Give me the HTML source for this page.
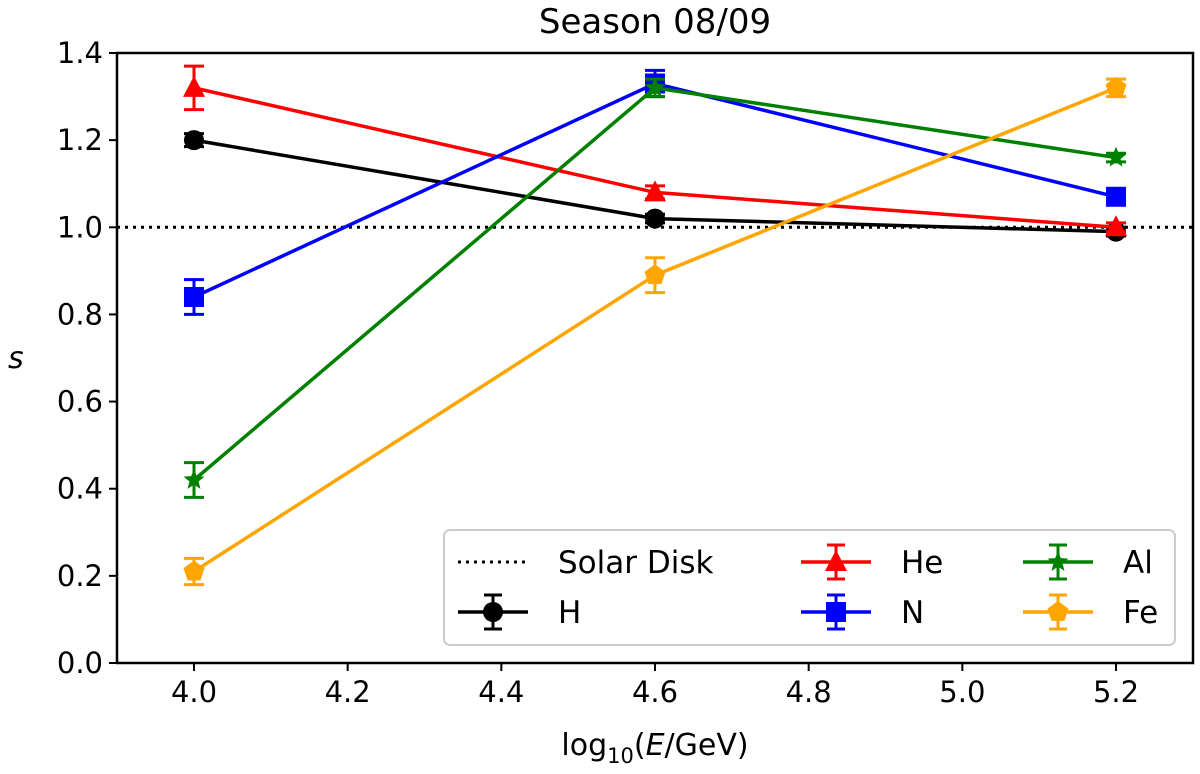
<!DOCTYPE html>
<html><head><meta charset="utf-8"><style>
body{margin:0;background:#fff;}
svg text{font-family:"DejaVu Sans","Liberation Sans",sans-serif;}
</style></head><body>
<svg id="chart" width="1200" height="769" viewBox="0 0 1200 769" xmlns="http://www.w3.org/2000/svg">
<text x="655" y="33" font-size="34" text-anchor="middle">Season 08/09</text>
<g id="plot"></g>
<text x="655" y="755" font-size="30" text-anchor="middle">log<tspan font-size="21" dy="8">10</tspan><tspan dy="-8">(</tspan><tspan font-style="italic">E</tspan>/GeV)</text>
<text x="8" y="368" font-size="30" font-style="italic">s</text>
</svg>
<script>
const energies=[4.0,4.6,5.2];
const seriesNames=["H","He","N","Al","Fe"];
const hVals=[1.20,1.02,0.99];
const heVals=[1.32,1.08,1.00];
const nVals=[0.84,1.33,1.07];
const alVals=[0.42,1.32,1.16];
const feVals=[0.21,0.89,1.32];
const hErr=[0.015,0.01,0.01];
const heErr=[0.05,0.015,0.01];
const nErr=[0.04,0.03,0.01];
const alErr=[0.04,0.02,0.01];
const feErr=[0.03,0.04,0.02];
const xTicks=[4.0,4.2,4.4,4.6,4.8,5.0,5.2];
const yTicks=[0.0,0.2,0.4,0.6,0.8,1.0,1.2,1.4];
const solarLevel=1.0;

const L=117,R=1193,T=53,B=663;
const X=v=>194+(v-4.0)/0.2*153.67;
const Y=v=>B-(v-0)/1.4*(B-T);
const NS="http://www.w3.org/2000/svg";
const g=document.getElementById('plot');
function el(t,a,p){const e=document.createElementNS(NS,t);for(const k in a)e.setAttribute(k,a[k]);(p||g).appendChild(e);return e;}

xTicks.forEach(v=>{
  const t=el('line',{x1:X(v),x2:X(v),y1:B,y2:B+8,stroke:'#000','stroke-width':2});
  
  
  const s=el('text',{x:X(v),y:B+39,'font-size':29,'text-anchor':'middle'});
  s.textContent=v.toFixed(1);
  
  
});
yTicks.forEach(v=>{
  const t=el('line',{x1:L-8,x2:L,y1:Y(v),y2:Y(v),stroke:'#000','stroke-width':2});
  
  
  const s=el('text',{x:L-14,y:Y(v)+10,'font-size':29,'text-anchor':'end'});
  s.textContent=v.toFixed(1);
  
  
});
const sl=el('line',{x1:L,x2:R,y1:Y(solarLevel),y2:Y(solarLevel),stroke:'#000','stroke-width':3,'stroke-dasharray':'3,5'});



function marker(type,x,y,c,parent){
  let m;
  if(type==='circle')m=el('circle',{cx:x,cy:y,r:10,fill:c},parent);
  else if(type==='tri')m=el('polygon',{points:`${x},${y-12} ${x+11},${y+9} ${x-11},${y+9}`,fill:c},parent);
  else if(type==='sq')m=el('rect',{x:x-10,y:y-10,width:20,height:20,fill:c},parent);
  else if(type==='star'){let p=[];for(let i=0;i<10;i++){const r=i%2?4.8:11,a=-Math.PI/2+i*Math.PI/5;p.push((x+r*Math.cos(a))+','+(y+r*Math.sin(a)));}m=el('polygon',{points:p.join(' '),fill:c},parent);}
  else {let p=[];for(let i=0;i<5;i++){const a=-Math.PI/2+i*2*Math.PI/5;p.push((x+11*Math.cos(a))+','+(y+11*Math.sin(a)));}m=el('polygon',{points:p.join(' '),fill:c},parent);}
  return m;
}
const series=[[hVals,hErr,'#000','circle'],[heVals,heErr,'#ff0000','tri'],[nVals,nErr,'#0000ff','sq'],[alVals,alErr,'#008000','star'],[feVals,feErr,'#ffa500','pent']];
series.forEach((s,i)=>{
  const [vals,err,c,mk]=s;
  const sg=el('g',{});
  
  
  const ln=el('polyline',{points:vals.map((v,j)=>X(energies[j])+','+Y(v)).join(' '),fill:'none',stroke:c,'stroke-width':3.5},sg);
  
  
  vals.forEach((v,j)=>{
    const x=X(energies[j]),y1=Y(v+err[j]),y2=Y(v-err[j]);
    el('line',{x1:x,x2:x,y1:y1,y2:y2,stroke:c,'stroke-width':3},sg);
    el('line',{x1:x-10,x2:x+10,y1:y1,y2:y1,stroke:c,'stroke-width':3},sg);
    el('line',{x1:x-10,x2:x+10,y1:y2,y2:y2,stroke:c,'stroke-width':3},sg);
    const m=marker(mk,x,Y(v),c,sg);
    
    
  });
});
const fr=el('rect',{x:L,y:T,width:R-L,height:B-T,fill:'none',stroke:'#000','stroke-width':2.5});



const lg=el('g',{});


el('rect',{x:444,y:530,width:731,height:115,rx:6,fill:'#fff','fill-opacity':0.85,stroke:'#ccc','stroke-width':2},lg);
function legEntry(x,y,c,mk,label,dotted){
  const eg=el('g',{},lg);
  
  
  if(dotted) el('line',{x1:x,x2:x+70,y1:y,y2:y,stroke:c,'stroke-width':3,'stroke-dasharray':'3,5'},eg);
  else{
    el('line',{x1:x,x2:x+70,y1:y,y2:y,stroke:c,'stroke-width':3.5},eg);
    el('line',{x1:x+35,x2:x+35,y1:y-17,y2:y+17,stroke:c,'stroke-width':3},eg);
    el('line',{x1:x+26,x2:x+44,y1:y-17,y2:y-17,stroke:c,'stroke-width':3},eg);
    el('line',{x1:x+26,x2:x+44,y1:y+17,y2:y+17,stroke:c,'stroke-width':3},eg);
    marker(mk,x+35,y,c,eg);
  }
  const t=el('text',{x:x+100,y:y+11,'font-size':31},eg);t.textContent=label;
}
legEntry(458,562,'#000','', 'Solar Disk',true);
legEntry(458,612,'#000','circle','H');
legEntry(801,562,'#ff0000','tri','He');
legEntry(801,612,'#0000ff','sq','N');
legEntry(1023,562,'#008000','star','Al');
legEntry(1023,612,'#ffa500','pent','Fe');
</script>
</body></html>
